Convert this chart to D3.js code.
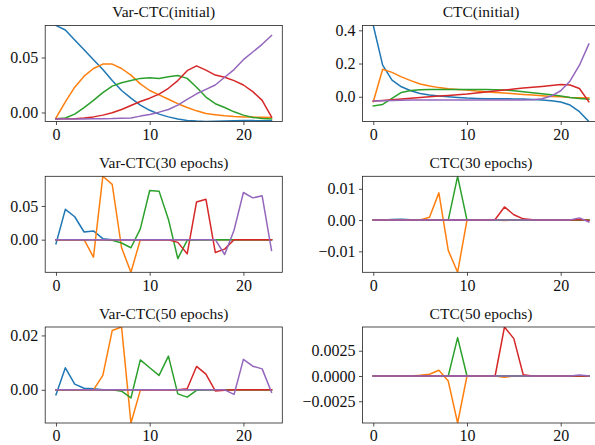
<!DOCTYPE html>
<html>
<head>
<meta charset="utf-8">
<script src="https://cdn.jsdelivr.net/npm/d3@7"></script>
<style>
  body { margin: 0; background: #fff; }
  .tick line { stroke: #222; stroke-width: 0.8; }
</style>
</head>
<body>
<div id="chart"></div>
<script>
const width = 595;
const height = 445;
const serif = "'Liberation Serif', 'Times New Roman', serif";

const colors = ["#1f77b4", "#ff7f0e", "#2ca02c", "#d62728", "#9467bd"];
const xTicks = [0, 10, 20];

// Var-CTC(initial)
const varInitBlue = [0.0791, 0.075, 0.066, 0.057, 0.048, 0.039, 0.029, 0.020, 0.013, 0.0067, 0.002, -0.0015, -0.004, -0.006, -0.0072, -0.0078, -0.0082, -0.008, -0.0078, -0.0076, -0.0074, -0.0074, -0.0075, -0.0076];
const varInitOrange = [-0.005, 0.0097, 0.023, 0.033, 0.040, 0.044, 0.044, 0.040, 0.034, 0.026, 0.020, 0.016, 0.012, 0.008, 0.0045, 0.0015, -0.001, -0.002, -0.003, -0.0036, -0.004, -0.0042, -0.0044, -0.0045];
const varInitGreen = [-0.0058, -0.005, -0.0015, 0.0045, 0.011, 0.018, 0.024, 0.027, 0.029, 0.031, 0.0315, 0.031, 0.0325, 0.0336, 0.031, 0.023, 0.014, 0.008, 0.0045, 0.0006, -0.0024, -0.0045, -0.0055, -0.0058];
const varInitRed = [-0.0058, -0.0058, -0.0056, -0.005, -0.004, -0.0024, -0.0003, 0.0027, 0.0064, 0.010, 0.013, 0.0167, 0.022, 0.029, 0.038, 0.0424, 0.0385, 0.034, 0.032, 0.029, 0.025, 0.019, 0.011, -0.004];
const varInitPurple = [-0.006, -0.006, -0.006, -0.006, -0.0058, -0.0056, -0.0055, -0.0052, -0.005, -0.0033, -0.0018, 0.0003, 0.0027, 0.0067, 0.012, 0.017, 0.021, 0.025, 0.032, 0.039, 0.048, 0.055, 0.062, 0.070];

// CTC(initial)
const ctcInitBlue = [0.429, 0.19, 0.10, 0.06, 0.036, 0.02, 0.01, 0.004, 0, -0.004, -0.008, -0.01, -0.012, -0.012, -0.012, -0.013, -0.014, -0.016, -0.02, -0.024, -0.032, -0.05, -0.09, -0.149];
const ctcInitOrange = [-0.03, 0.166, 0.147, 0.12, 0.097, 0.077, 0.065, 0.055, 0.048, 0.044, 0.04, 0.034, 0.03, 0.026, 0.022, 0.018, 0.014, 0.01, 0.006, 0.002, 0, -0.004, -0.006, -0.008];
const ctcInitGreen = [-0.055, -0.046, -0.01, 0.026, 0.038, 0.042, 0.044, 0.044, 0.044, 0.044, 0.044, 0.044, 0.044, 0.042, 0.04, 0.036, 0.03, 0.024, 0.018, 0.012, 0.004, -0.004, -0.01, -0.014];
const ctcInitRed = [-0.026, -0.022, -0.018, -0.014, -0.009, -0.004, 0.0, 0.004, 0.008, 0.012, 0.016, 0.022, 0.028, 0.034, 0.040, 0.046, 0.052, 0.057, 0.062, 0.068, 0.074, 0.071, 0.05, -0.03];
const ctcInitPurple = [-0.026, -0.024, -0.022, -0.021, -0.02, -0.02, -0.02, -0.02, -0.02, -0.02, -0.02, -0.02, -0.02, -0.02, -0.02, -0.02, -0.019, -0.018, -0.012, 0.004, 0.036, 0.095, 0.19, 0.317];

// Var-CTC(30 epochs)
const var30Blue = [-0.006, 0.045, 0.034, 0.0114, 0.013, 0.0015, 0, 0, 0, 0, 0, 0, 0, 0, 0, 0, 0, 0, 0, 0, 0, 0, 0, 0];
const var30Orange = [0, 0, 0, 0, -0.026, 0.094, 0.082, -0.012, -0.0484, 0, 0, 0, 0, 0, 0, 0, 0, 0, 0, 0, 0, 0, 0, 0];
const var30Green = [0, 0, 0, 0, 0, 0, -0.001, -0.005, -0.012, 0.016, 0.073, 0.072, 0.03, -0.028, -0.001, 0, 0, 0, 0, 0, 0, 0, 0, 0];
const var30Red = [0, 0, 0, 0, 0, 0, 0, 0, 0, 0, 0, 0, 0, -0.004, -0.021, 0.056, 0.06, -0.019, -0.014, 0, 0, 0, 0, 0];
const var30Purple = [0, 0, 0, 0, 0, 0, 0, 0, 0, 0, 0, 0, 0, 0, 0, 0, 0, 0, -0.022, 0.014, 0.07, 0.062, 0.065, -0.016];

// CTC(30 epochs)
const ctc30Blue = [0, 0, 0.0002, 0.0003, 0.0001, 0, 0, 0, 0, 0, 0, 0, 0, 0, 0, 0, 0, 0, 0, 0, 0, 0, 0, 0];
const ctc30Orange = [0, 0, 0, 0, 0, 0, 0.0009, 0.0087, -0.0097, -0.0167, 0, 0, 0, 0, -0.0001, 0, 0, 0, 0, 0, 0, 0, 0, 0];
const ctc30Green = [0, 0, 0, 0, 0, 0, 0, 0, 0, 0.014, 0, 0, 0, 0, 0, 0, 0, 0, 0, 0, 0, 0, 0, 0];
const ctc30Red = [0, 0, 0, 0, 0, 0, 0, 0, 0, 0, 0, 0, 0, 0.0002, 0.0042, 0.0017, 0.0004, 0.0001, 0, 0, 0, 0, 0.0002, -0.0001];
const ctc30Purple = [0, 0, 0, 0, 0, 0, 0, 0, 0, 0, 0, 0, 0, 0, 0, 0, 0, 0, 0, 0, 0, 0, 0.0007, -0.0006];

// Var-CTC(50 epochs)
const var50Blue = [-0.0018, 0.0081, 0.0021, 0.0006, 0.0004, 0, 0, 0, 0, 0, 0, 0, 0, 0, 0, 0, 0, 0, 0, 0, 0, 0, 0, 0];
const var50Orange = [0, 0, 0, 0, 0, 0.0053, 0.0218, 0.0231, -0.0122, -0.0002, 0, 0, 0, 0, 0, 0, 0, 0, 0, 0, 0, 0, 0, 0];
const var50Green = [0, 0, 0, 0, 0, 0, 0, -0.0005, -0.003, 0.011, 0.0081, 0.0053, 0.0124, -0.0015, -0.0027, -0.0002, 0, 0, 0, 0, 0, 0, 0, 0];
const var50Red = [0, 0, 0, 0, 0, 0, 0, 0, 0, 0, 0, 0, 0, 0, 0.0004, 0.0086, 0.0058, -0.0004, -0.0002, 0, 0, 0, 0, 0];
const var50Purple = [0, 0, 0, 0, 0, 0, 0, 0, 0, 0, 0, 0, 0, 0, 0, 0, 0, 0, 0, -0.0017, 0.0112, 0.0087, 0.0077, -0.0009];

// CTC(50 epochs)
const ctc50Blue = [0, 0, 0, 0, 0, 0, 0, 0, 0, 0, 0, 0, 0, 0, 0, 0, 0, 0, 0, 0, 0, 0, 0, 0];
const ctc50Orange = [0, 0, 0, 0, 0, 0.00007, 0.00017, 0.00057, -0.0005, -0.00465, 0, 0, 0, 0, -0.00013, 0, 0, 0, 0, 0, 0, 0, 0, 0];
const ctc50Green = [0, 0, 0, 0, 0, 0, 0, 0, 0, 0.0038, 0, 0, 0, 0, 0, 0, 0, 0, 0, 0, 0, 0, 0, 0];
const ctc50Red = [0, 0, 0, 0, 0, 0, 0, 0, 0, 0, 0, 0, 0, 0, 0.00485, 0.0037, 0.00013, 0, 0, 0, 0, 0, 0, 0];
const ctc50Purple = [0, 0, 0, 0, 0, 0, 0, 0, 0, 0, 0, 0, 0, 0, 0, 0, 0, 0, 0, 0, 0, 0, 0.0001, 0];

// minus sign shown with a small gap like the original
const minus = s => s.replace("-", "- ");

const panels = [
    { title: "Var-CTC(initial)", col: 0, row: 0, series: [varInitBlue, varInitOrange, varInitGreen, varInitRed, varInitPurple], yTicks: [0, 0.05], fmt: d3.format(".2f") },
    { title: "CTC(initial)", col: 1, row: 0, series: [ctcInitBlue, ctcInitOrange, ctcInitGreen, ctcInitRed, ctcInitPurple], yTicks: [0, 0.2, 0.4], fmt: d3.format(".1f") },
    { title: "Var-CTC(30 epochs)", col: 0, row: 1, series: [var30Blue, var30Orange, var30Green, var30Red, var30Purple], yTicks: [0, 0.05], fmt: d3.format(".2f") },
    { title: "CTC(30 epochs)", col: 1, row: 1, series: [ctc30Blue, ctc30Orange, ctc30Green, ctc30Red, ctc30Purple], yTicks: [-0.01, 0, 0.01], fmt: d3.format(".2f") },
    { title: "Var-CTC(50 epochs)", col: 0, row: 2, series: [var50Blue, var50Orange, var50Green, var50Red, var50Purple], yTicks: [0, 0.02], fmt: d3.format(".2f") },
    { title: "CTC(50 epochs)", col: 1, row: 2, series: [ctc50Blue, ctc50Orange, ctc50Green, ctc50Red, ctc50Purple], yTicks: [-0.0025, 0, 0.0025], fmt: d3.format(".4f") }
];

const colLeft = [45.2, 362.5];
const panelW = 237.1;
const rowTop = [25.5, 176.3, 327];
const panelH = 96;

const svg = d3.select("#chart")
    .append("svg")
    .attr("width", width)
    .attr("height", height);

panels.forEach((p, i) => {
    const x0 = colLeft[p.col];
    const y0 = rowTop[p.row];

    const x = d3.scaleLinear().domain([-1.15, 24.15]).range([x0, x0 + panelW]);
    const allVals = p.series.flat();
    const y = d3.scaleLinear().domain(d3.extent(allVals)).range([y0 + panelH, y0]);

    svg.append("clipPath")
        .attr("id", "clip" + i)
        .append("rect")
        .attr("x", x0).attr("y", y0)
        .attr("width", panelW).attr("height", panelH);

    const line = d3.line()
        .x((d, j) => x(j))
        .y(d => y(d));

    svg.append("g")
        .attr("clip-path", `url(#clip${i})`)
        .selectAll("path")
        .data(p.series)
        .enter().append("path")
        .attr("d", line)
        .attr("fill", "none")
        .attr("stroke", (d, k) => colors[k])
        .attr("stroke-width", 1.5)
        .attr("stroke-linejoin", "round")
        .attr("stroke-linecap", "square");

    svg.append("rect")
        .attr("x", x0).attr("y", y0)
        .attr("width", panelW).attr("height", panelH)
        .attr("fill", "none")
        .attr("stroke", "#222")
        .attr("stroke-width", 0.8);

    const xAxis = svg.append("g")
        .attr("transform", `translate(0,${y0 + panelH})`)
        .call(d3.axisBottom(x).tickValues(xTicks).tickSize(3.5).tickPadding(3.5).tickFormat(d3.format("d")));
    xAxis.select(".domain").remove();
    xAxis.attr("font-family", null).attr("font-size", null);
    xAxis.selectAll("text")
        .style("font-family", serif)
        .style("font-size", "16px")
        .style("fill", "#111");

    const yAxis = svg.append("g")
        .attr("transform", `translate(${x0},0)`)
        .call(d3.axisLeft(y).tickValues(p.yTicks).tickSize(3.5).tickPadding(3.5).tickFormat(d => minus(p.fmt(d))));
    yAxis.select(".domain").remove();
    yAxis.attr("font-family", null).attr("font-size", null);
    yAxis.selectAll("text")
        .style("font-family", serif)
        .style("font-size", "16px")
        .style("fill", "#111")
        .style("white-space", "pre");

    svg.append("text")
        .attr("x", x0 + panelW / 2)
        .attr("y", y0 - 8.5)
        .attr("text-anchor", "middle")
        .style("font-family", serif)
        .style("font-size", "15.5px")
        .style("fill", "#111")
        .text(p.title);
});
</script>
</body>
</html>
